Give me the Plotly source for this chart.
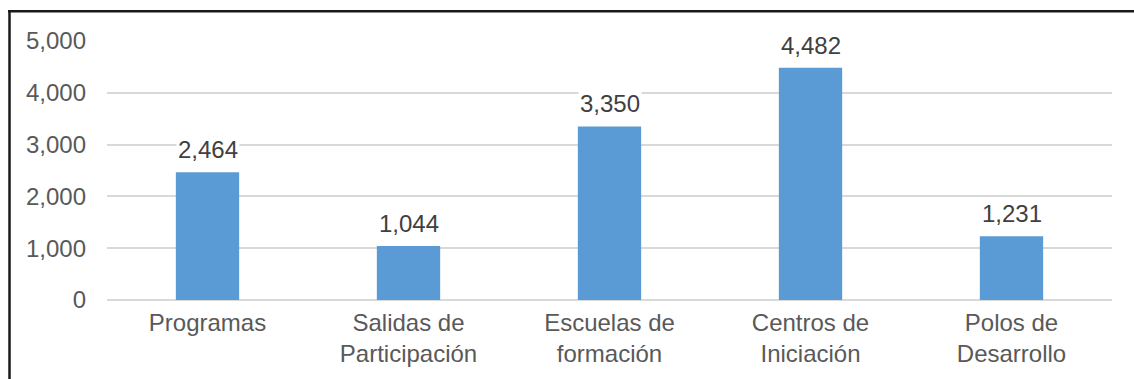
import plotly.graph_objects as go

categories = ["Programas", "Salidas de<br>Participación", "Escuelas de<br>formación",
              "Centros de<br>Iniciación", "Polos de<br>Desarrollo"]
values = [2464, 1044, 3350, 4482, 1231]
tick_vals = [0, 1000, 2000, 3000, 4000, 5000]
tick_text = ["0", "1,000", "2,000", "3,000", "4,000", "5,000"]

W, H = 1134, 379
ML, MR, MT, MB = 107, 22, 41, 77

FONT = "Liberation Sans, Arial, sans-serif"
FS = 24

fig = go.Figure(go.Bar(
    x=categories, y=values, marker=dict(color="#5B9BD5", line=dict(width=0)),
    width=0.315, hoverinfo="skip",
))

for c, v in zip(categories, values):
    fig.add_annotation(
        x=c, y=v, text=f"{v:,}", showarrow=False, yanchor="bottom", yshift=7,
        font=dict(family=FONT, size=FS, color="#404040"),
        bgcolor="white", borderpad=1,
    )

# frame around the chart (top and left edges visible)
pw, ph = W - ML - MR, H - MT - MB
def px_x(p):
    return (p - ML) / pw
def px_y(p):
    return (H - MB - p) / ph

fig.add_shape(type="line", xref="paper", yref="paper",
              x0=px_x(8), x1=px_x(W + 5), y0=px_y(11), y1=px_y(11),
              line=dict(color="#1a1a1a", width=2.5))
fig.add_shape(type="line", xref="paper", yref="paper",
              x0=px_x(9.5), x1=px_x(9.5), y0=px_y(10), y1=px_y(H + 5),
              line=dict(color="#1a1a1a", width=2.5))

fig.update_layout(
    width=W, height=H,
    margin=dict(l=ML, r=MR, t=MT, b=MB, pad=0),
    paper_bgcolor="white", plot_bgcolor="white",
    showlegend=False,
    bargap=0.685,
    font=dict(family=FONT, size=FS, color="#595959"),
)
fig.update_xaxes(showgrid=False, showline=False, ticks="", zeroline=False,
                 ticklabelstandoff=6,
                 tickfont=dict(family=FONT, size=FS, color="#595959"))
fig.update_yaxes(range=[0, 5000], tickvals=tick_vals, ticktext=tick_text,
                 showgrid=True, gridcolor="#D9D9D9", gridwidth=1.5,
                 zeroline=True, zerolinecolor="#D9D9D9", zerolinewidth=1.5,
                 showline=False, ticks="", ticklabelstandoff=20,
                 tickfont=dict(family=FONT, size=FS, color="#595959"))

fig.write_html("out.html")
